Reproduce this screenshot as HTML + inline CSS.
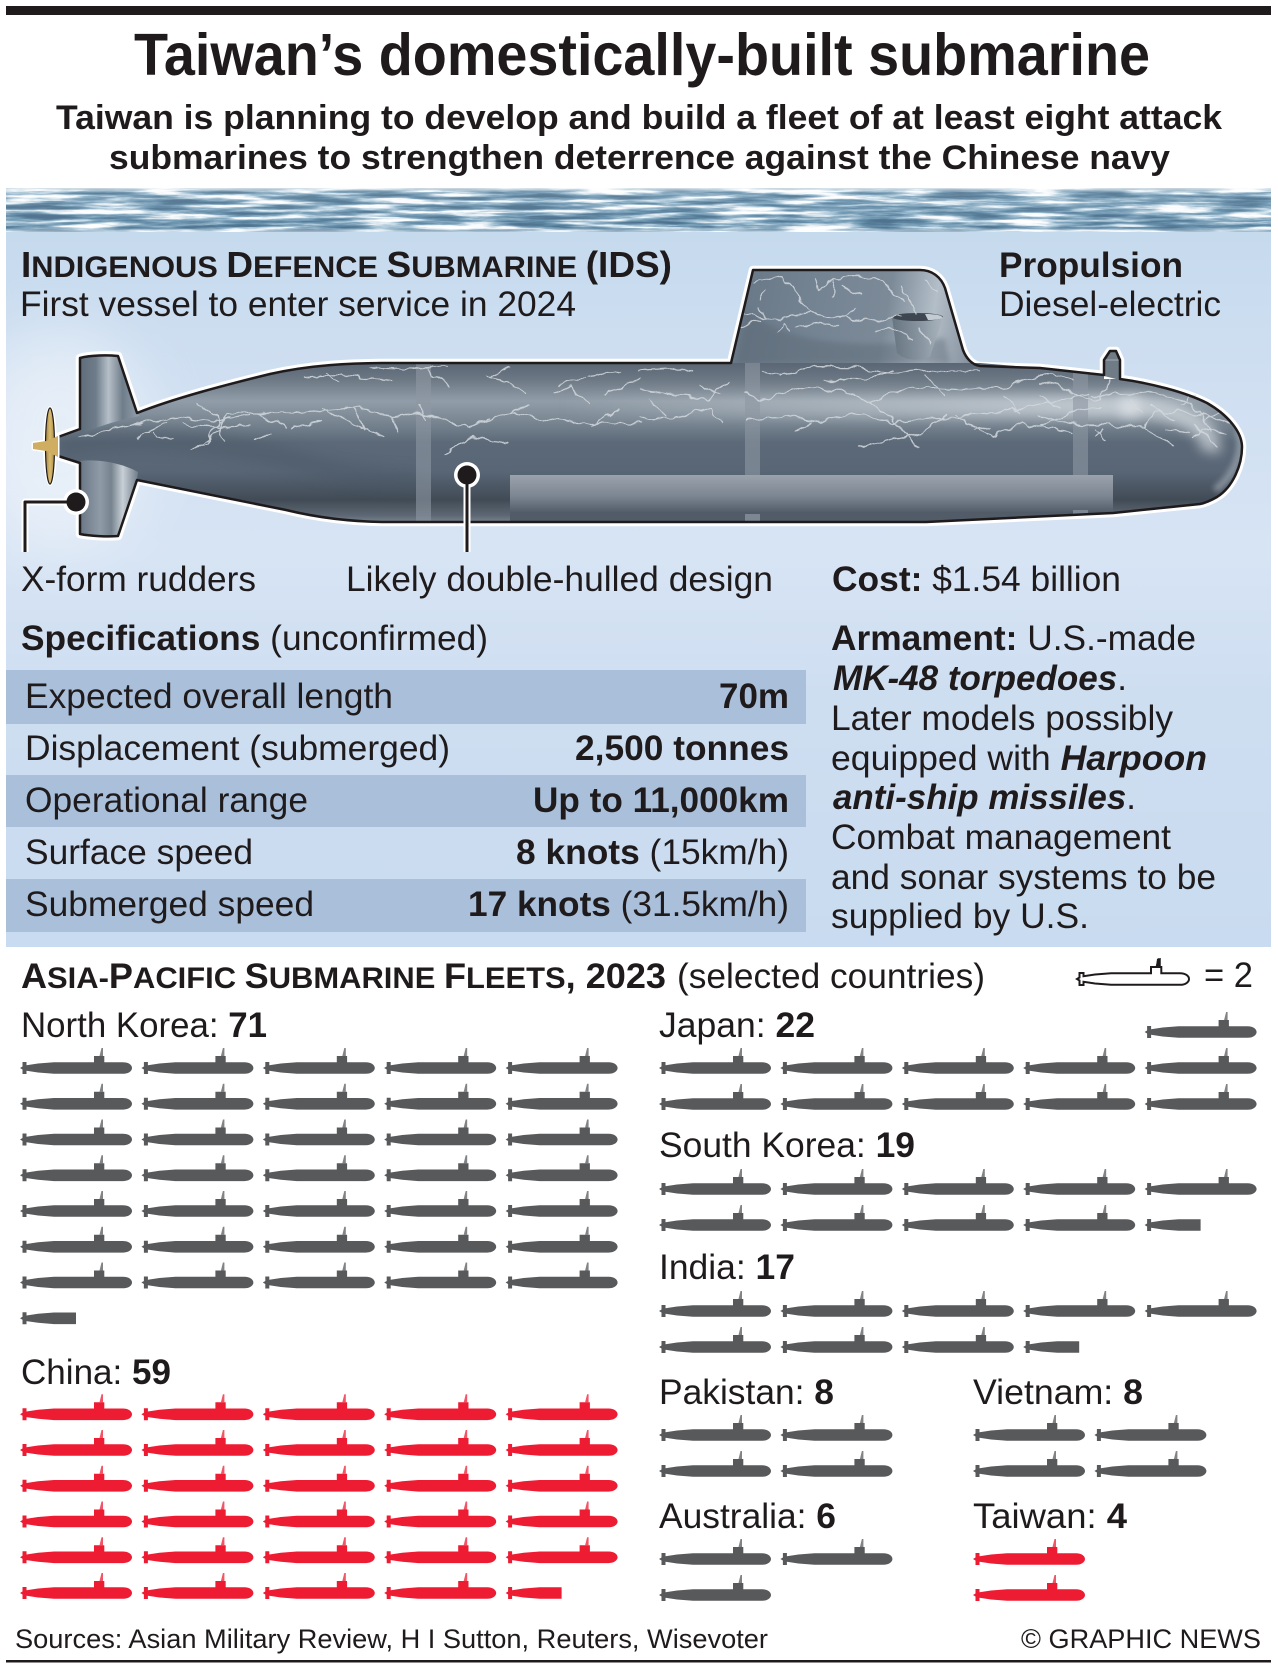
<!DOCTYPE html>
<html><head><meta charset="utf-8"><style>
html,body{margin:0;padding:0;background:#fff}
svg{display:block}
text{font-family:"Liberation Sans",Arial,sans-serif;fill:#1f1b1c}
.r{font-size:35px}
.b{font-size:35px;font-weight:700}
.bi{font-weight:700;font-style:italic}
.bt{font-weight:700}
</style></head><body>
<svg width="1278" height="1667" viewBox="0 0 1278 1667" xmlns="http://www.w3.org/2000/svg">
<defs>
<filter id="sea" x="0" y="0" width="1" height="1" color-interpolation-filters="sRGB">
<feTurbulence type="fractalNoise" baseFrequency="0.014 0.2" numOctaves="5" seed="23"/>
<feColorMatrix values="1 0 0 0 0 1 0 0 0 0 1 0 0 0 0 0 0 0 0 1"/>
<feComponentTransfer>
<feFuncR type="table" tableValues=".30 .30 .30 .33 .40 .52 .74 .97 1 1 1"/>
<feFuncG type="table" tableValues=".44 .44 .44 .48 .56 .66 .83 .98 1 1 1"/>
<feFuncB type="table" tableValues=".55 .55 .55 .59 .67 .75 .89 .99 1 1 1"/>
</feComponentTransfer>
</filter>
<filter id="wig" filterUnits="userSpaceOnUse" x="0" y="200" width="1278" height="400" color-interpolation-filters="sRGB">
<feTurbulence type="fractalNoise" baseFrequency="0.08" numOctaves="2" seed="4" result="n"/>
<feDisplacementMap in="SourceGraphic" in2="n" scale="9" xChannelSelector="R" yChannelSelector="G"/>
</filter>
<filter id="bl" filterUnits="userSpaceOnUse" x="0" y="200" width="1278" height="400"><feGaussianBlur stdDeviation="6"/></filter>
<filter id="bl3" filterUnits="userSpaceOnUse" x="0" y="200" width="1278" height="400"><feGaussianBlur stdDeviation="3"/></filter>
<filter id="bl30" filterUnits="userSpaceOnUse" x="-100" y="200" width="1500" height="800"><feGaussianBlur stdDeviation="30"/></filter>
<linearGradient id="seaf" x1="0" y1="0" x2="0" y2="1">
<stop offset="0" stop-color="#fff" stop-opacity=".75"/><stop offset=".1" stop-color="#fff" stop-opacity=".1"/><stop offset=".9" stop-color="#fff" stop-opacity="0"/><stop offset="1" stop-color="#fff" stop-opacity=".5"/>
</linearGradient>
<linearGradient id="panel" x1="0" y1="0" x2="0" y2="1">
<stop offset="0" stop-color="#c6daee"/><stop offset=".2" stop-color="#cfdff1"/><stop offset=".45" stop-color="#d7e4f4"/><stop offset=".65" stop-color="#cedef1"/><stop offset="1" stop-color="#c9dbf0"/>
</linearGradient>
<linearGradient id="hull" gradientUnits="userSpaceOnUse" x1="0" y1="363" x2="0" y2="522">
<stop offset="0" stop-color="#5a6673"/><stop offset=".1" stop-color="#6b7783"/><stop offset=".24" stop-color="#919da8"/><stop offset=".36" stop-color="#7b8894"/><stop offset=".5" stop-color="#5c6978"/><stop offset=".68" stop-color="#596676"/><stop offset=".86" stop-color="#414b56"/><stop offset=".96" stop-color="#5d6874"/><stop offset="1" stop-color="#77828d"/>
</linearGradient>
<linearGradient id="sail" gradientUnits="userSpaceOnUse" x1="745" y1="280" x2="975" y2="320">
<stop offset="0" stop-color="#6a7988"/><stop offset=".3" stop-color="#748392"/><stop offset=".62" stop-color="#7c8a98"/><stop offset=".82" stop-color="#b3bec8"/><stop offset="1" stop-color="#8793a0"/>
</linearGradient>
<linearGradient id="rud" gradientUnits="userSpaceOnUse" x1="80" y1="0" x2="137" y2="0">
<stop offset="0" stop-color="#5f6d7b"/><stop offset=".28" stop-color="#6f7d8b"/><stop offset=".5" stop-color="#b5bfc8"/><stop offset=".75" stop-color="#6f7d8a"/><stop offset="1" stop-color="#8f9ca8"/>
</linearGradient>
<linearGradient id="rud2" gradientUnits="userSpaceOnUse" x1="80" y1="0" x2="137" y2="0">
<stop offset="0" stop-color="#6a7785"/><stop offset=".35" stop-color="#8f9ba7"/><stop offset=".55" stop-color="#77848f"/><stop offset=".75" stop-color="#c8cfd6"/><stop offset="1" stop-color="#76838f"/>
</linearGradient>
<linearGradient id="cas" gradientUnits="userSpaceOnUse" x1="0" y1="475" x2="0" y2="522">
<stop offset="0" stop-color="#9aa2ac"/><stop offset=".45" stop-color="#7c8692"/><stop offset=".8" stop-color="#525c68"/><stop offset="1" stop-color="#5c6672"/>
</linearGradient>
<linearGradient id="prop" x1="0" y1="0" x2="1" y2="0">
<stop offset="0" stop-color="#a4843f"/><stop offset=".5" stop-color="#d9bb70"/><stop offset="1" stop-color="#ab8c48"/>
</linearGradient>
<linearGradient id="cyl" x1="0" y1="0" x2="1" y2="0">
<stop offset="0" stop-color="#66747f" stop-opacity=".95"/><stop offset=".6" stop-color="#8a97a3" stop-opacity=".95"/><stop offset="1" stop-color="#a9b3bc" stop-opacity=".85"/>
</linearGradient>
<linearGradient id="hi" gradientUnits="userSpaceOnUse" x1="560" y1="0" x2="1100" y2="0">
<stop offset="0" stop-color="#e6ebef" stop-opacity="0"/><stop offset="1" stop-color="#e6ebef" stop-opacity=".6"/>
</linearGradient>
<path id="hp" d="M58 437L80 430L137 413C175 398 225 385 270 374C310 365 350 363 388 363H980L1040 368L1104 375V379H1120C1150 383 1185 392 1207 403C1228 415 1242 432 1242 447C1242 465 1233 487 1217 497C1210 501 1205 503 1200 504L1113 513L926 522H388C350 522 315 517 286 510L137 480C115 475 100 470 80 463L58 456Z"/>
<clipPath id="hc"><use href="#hp"/></clipPath>
<g id="s"><path d="M0 0L2.500-1.500V-6H6.500V-2.800L18-4.500L34-5.800H74V-12H84.300V-5.800H103C108.500-5.800 112-3 112 0C112 3 108.500 5.800 103 5.800H34L18 4.500L6.500 2.800V6H2.500V1.500Z"/><path d="M79.500-12L81.500-20H83V-12Z" opacity=".75"/></g>
<path id="p" d="M0 0L2.500-1.500V-6H6.500V-2.800L18-4.500L34-5.800H56V5.800H34L18 4.500L6.500 2.800V6H2.500V1.500Z"/>
<g id="r2"><use href="#s" x="0"/><use href="#s" x="121.400"/></g>
<g id="r3"><use href="#r2"/><use href="#s" x="242.800"/></g>
<g id="r4"><use href="#r3"/><use href="#s" x="364.200"/></g>
<g id="r5"><use href="#r4"/><use href="#s" x="485.600"/></g>
</defs>

<rect x="6" y="6" width="1265" height="9" fill="#1f1b1c"/>
<text x="134" y="75" font-size="59" class="bt" textLength="1016" lengthAdjust="spacingAndGlyphs">Taiwan’s domestically-built submarine</text>
<text x="56" y="129" font-size="34.500" class="bt" textLength="1166" lengthAdjust="spacingAndGlyphs">Taiwan is planning to develop and build a fleet of at least eight attack</text>
<text x="109" y="169" font-size="34.500" class="bt" textLength="1061" lengthAdjust="spacingAndGlyphs">submarines to strengthen deterrence against the Chinese navy</text>

<rect x="6" y="231" width="1265" height="716" fill="url(#panel)"/>
<ellipse cx="60" cy="440" rx="90" ry="110" fill="#fff" opacity=".45" filter="url(#bl30)"/>
<rect x="6" y="188" width="1265" height="44" filter="url(#sea)"/>
<rect x="6" y="188" width="1265" height="44" fill="url(#seaf)"/>

<!-- table -->
<rect x="6" y="670" width="800" height="54" fill="#a9bfda"/>
<rect x="6" y="775" width="800" height="52" fill="#a9bfda"/>
<rect x="6" y="879" width="800" height="53" fill="#a9bfda"/>

<!-- submarine -->
<g stroke-linejoin="round">
<path d="M58 437L80 429V358C90 355 108 355 118 356L137 413C175 398 225 385 270 374C310 365 350 363 388 363H731L753 270H920C932 270 941 277 945 288L963 350C966 358 972 365 980 366L1040 368L1104 375V360L1110 351H1116L1120 360V379C1150 383 1185 392 1207 403C1228 415 1242 432 1242 447C1242 465 1233 487 1217 497C1210 501 1205 503 1200 504L1113 513L926 522H388C350 522 315 517 286 510L137 480L118 536C108 537 90 536 80 534V463L58 456Z" fill="#fff" stroke="#fff" stroke-width="8.500"/>
<path d="M731 364L753 270H920C932 270 941 277 945 288L963 350C966 358 972 365 980 366Z" fill="url(#sail)"/>
<path d="M736 364L746 310C790 345 860 350 945 338L950 364Z" fill="#56636f" opacity=".4" filter="url(#bl3)"/>
<path d="M1104 376V360L1110 351H1116L1120 360V380Z" fill="#6f7b85"/>
<path d="M1104 360H1120" stroke="#a5aeb6" stroke-width="1"/>
<use href="#hp" fill="url(#hull)"/>
<g clip-path="url(#hc)">
<path d="M60 447C130 432 220 440 300 462C340 474 380 480 420 480" fill="none" stroke="#4a5665" stroke-width="22" opacity=".4" filter="url(#bl)"/>
<rect x="560" y="396" width="580" height="22" fill="url(#hi)" filter="url(#bl)"/>
<path d="M1120 407C1175 405 1215 425 1210 452" fill="none" stroke="#e6ebef" stroke-width="20" opacity=".62" filter="url(#bl)"/>
<path d="M1238 430C1245 450 1235 475 1215 490" fill="none" stroke="#aeb7bf" stroke-width="7" opacity=".6" filter="url(#bl3)"/>
<rect x="416" y="363" width="15" height="159" fill="#8d98a3" opacity=".6"/>
<rect x="745" y="363" width="15" height="159" fill="#8d98a3" opacity=".6"/>
<rect x="1073" y="363" width="15" height="159" fill="#8d98a3" opacity=".6"/>
<rect x="510" y="475" width="603" height="38" fill="url(#cas)"/>
<path d="M510 513H1113V522H510Z" fill="#525c68"/>
<rect x="745" y="514" width="15" height="8" fill="#7c8793"/>
<rect x="1073" y="510" width="15" height="6" fill="#7c8793"/>
</g>
<path d="M892 317H943L930 357C915 362 903 359 897 353Z" fill="url(#cyl)"/>
<ellipse cx="917.500" cy="317" rx="25.500" ry="4" fill="#3e4751"/>
<path d="M925 314C935 314 942 315 943 318C938 320 932 320 928 320Z" fill="#c3ccd3"/>
<!-- rudders over hull -->
<path d="M80 434V358C90 355 108 355 118 356L137 413L140 416C118 420 100 426 80 434Z" fill="url(#rud)"/>
<path d="M80 461C95 459 120 462 138 472L137 480L118 536C108 537 90 536 80 534Z" fill="url(#rud2)"/>
<!-- cracks -->
<g filter="url(#wig)">
<g fill="none" stroke="#d3d9de" stroke-width="1.300" opacity=".85" stroke-linecap="round">
<path d="M78 438L110 430L143 423L177 417L217 422L250 415M137 438L153 427L167 422M153 430L157 438L173 438M192 448L207 443L213 427L223 422L232 417M197 403L217 418L223 443M183 425L217 427L250 425"/>
<path d="M304 377L339 375L392 380M326 373L339 383M369 368L412 370L445 367M429 370L449 387M486 377L502 380L527 392M490 377L510 367M555 393L571 387L588 403M588 377L620 370M604 393L640 380M560 385L585 378"/>
<path d="M196 447L216 433L229 413L294 413L355 407L392 417L420 413L469 427L510 413L571 423L640 423M322 407L339 417L384 437M392 417L400 433M445 453L473 437L506 443M257 413L286 427M257 440L270 433M420 405L425 418M290 428L320 422M355 407L365 430M510 413L530 405M470 427L490 418"/>
<path d="M640 370L681 368L693 373M762 370L783 375L815 367L864 368L893 373L926 370L979 370M824 380L864 380L893 370M640 390L664 393L709 400L726 383M746 393L762 400L803 388L844 390L869 403L913 387L966 390L1007 387L1048 373L1073 380"/>
<path d="M640 418L681 417L709 407L722 423M746 420L787 417L820 423L852 413L893 423L942 417L995 413L1032 407L1089 393M869 403L893 420L918 447M860 447L893 440L922 433L946 413M954 413L991 437L1024 423L1073 433M795 430L811 423M975 430L990 428M590 425L620 410M650 400L665 415M700 385L720 395M925 375L945 395M1005 395L1020 412M1040 395L1060 410"/>
<path d="M1040 382L1060 387L1080 397L1100 400L1110 380M1040 415L1057 420L1080 425L1107 425L1143 427L1155 412L1180 412L1203 415L1230 423M1143 427L1157 437L1172 444M1040 425L1060 417L1077 410L1100 407M1093 395L1103 397L1120 393L1147 393L1183 400L1200 412L1210 433M1095 430L1107 438M1095 437L1103 430M1193 437L1210 430L1227 433M1180 405L1195 395M1205 420L1220 410M1150 405L1175 420M1195 425L1215 445M1130 400L1142 412M1165 428L1190 432"/>
<path d="M753 283L770 280L782 277L792 288L795 293L800 300L810 310L817 315L830 317L845 317L860 320L877 323L890 318L900 317M743 313L760 317L777 320L793 315L810 312M740 327L760 320M777 332L783 323L790 333M797 327L817 323L838 326M817 280L820 290L833 280L853 275L877 280L893 290L903 300M833 280L832 297M902 287L913 307L917 313M927 280L937 292M877 330L887 328L903 332L912 340M920 330L930 343M760 300L765 290M845 317L855 308M765 317L758 308M842 285L860 295"/>
</g></g>
<path d="M58 437L80 429V358C90 355 108 355 118 356L137 413C175 398 225 385 270 374C310 365 350 363 388 363H731L753 270H920C932 270 941 277 945 288L963 350C966 358 972 365 980 366L1040 368L1104 375V360L1110 351H1116L1120 360V379C1150 383 1185 392 1207 403C1228 415 1242 432 1242 447C1242 465 1233 487 1217 497C1210 501 1205 503 1200 504L1113 513L926 522H388C350 522 315 517 286 510L137 480L118 536C108 537 90 536 80 534V463L58 456" fill="none" stroke="#1f1b1c" stroke-width="2.500"/>
<!-- propeller -->
<ellipse cx="50" cy="446" rx="7" ry="40" fill="#fff"/>
<path d="M33 443L46 441L58 436V457L46 451L33 449Z" fill="#fff" stroke="#fff" stroke-width="3"/>
<ellipse cx="50" cy="446" rx="4.500" ry="38" fill="url(#prop)" stroke="#1f1b1c" stroke-width="1.200"/>
<path d="M33 443L46 441L58 436V457L46 451L33 449Z" fill="#cfae62"/>
<!-- pointers -->
<path d="M76 502H25V552" fill="none" stroke="#fff" stroke-width="7"/>
<path d="M467 475V552" fill="none" stroke="#fff" stroke-width="7"/>
<circle cx="76" cy="502" r="13" fill="#fff"/>
<circle cx="467" cy="475" r="13" fill="#fff"/>
<path d="M76 502H25V552" fill="none" stroke="#1f1b1c" stroke-width="3"/>
<path d="M467 475V552" fill="none" stroke="#1f1b1c" stroke-width="3"/>
<circle cx="76" cy="502" r="9.500" fill="#1f1b1c"/>
<circle cx="467" cy="475" r="9.500" fill="#1f1b1c"/>
</g>

<!-- labels -->
<text x="21" y="277" class="bt" font-size="30" textLength="651" lengthAdjust="spacingAndGlyphs"><tspan font-size="36">I</tspan>NDIGENOUS <tspan font-size="36">D</tspan>EFENCE <tspan font-size="36">S</tspan>UBMARINE <tspan font-size="36">(IDS)</tspan></text>
<text x="20" y="316" class="r" textLength="556" lengthAdjust="spacingAndGlyphs">First vessel to enter service in 2024</text>
<text x="999" y="277" class="b" textLength="184" lengthAdjust="spacingAndGlyphs">Propulsion</text>
<text x="999" y="316" class="r" textLength="222" lengthAdjust="spacingAndGlyphs">Diesel-electric</text>
<text x="21" y="591" class="r" textLength="235" lengthAdjust="spacingAndGlyphs">X-form rudders</text>
<text x="346" y="591" class="r" textLength="427" lengthAdjust="spacingAndGlyphs">Likely double-hulled design</text>
<text x="832" y="591" class="r" textLength="289" lengthAdjust="spacingAndGlyphs"><tspan class="bt">Cost:</tspan> $1.54 billion</text>
<text x="21" y="650" class="r" textLength="467" lengthAdjust="spacingAndGlyphs"><tspan class="bt">Specifications</tspan> (unconfirmed)</text>

<text x="25" y="708" class="r" textLength="368" lengthAdjust="spacingAndGlyphs">Expected overall length</text>
<text x="25" y="760" class="r" textLength="425" lengthAdjust="spacingAndGlyphs">Displacement (submerged)</text>
<text x="25" y="812" class="r" textLength="283" lengthAdjust="spacingAndGlyphs">Operational range</text>
<text x="25" y="864" class="r" textLength="228" lengthAdjust="spacingAndGlyphs">Surface speed</text>
<text x="25" y="916" class="r" textLength="289" lengthAdjust="spacingAndGlyphs">Submerged speed</text>
<text x="719" y="708" class="b" textLength="70" lengthAdjust="spacingAndGlyphs">70m</text>
<text x="575" y="760" class="b" textLength="214" lengthAdjust="spacingAndGlyphs">2,500 tonnes</text>
<text x="533" y="812" class="b" textLength="256" lengthAdjust="spacingAndGlyphs">Up to 11,000km</text>
<text x="516" y="864" class="r" textLength="273" lengthAdjust="spacingAndGlyphs"><tspan class="bt">8 knots</tspan> (15km/h)</text>
<text x="468" y="916" class="r" textLength="321" lengthAdjust="spacingAndGlyphs"><tspan class="bt">17 knots</tspan> (31.5km/h)</text>

<text x="831" y="650" class="r" textLength="365" lengthAdjust="spacingAndGlyphs"><tspan class="bt">Armament:</tspan> U.S.-made</text>
<text x="833" y="690" class="r" textLength="294" lengthAdjust="spacingAndGlyphs"><tspan class="bi">MK-48 torpedoes</tspan>.</text>
<text x="831" y="730" class="r" textLength="342" lengthAdjust="spacingAndGlyphs">Later models possibly</text>
<text x="831" y="770" class="r" textLength="376" lengthAdjust="spacingAndGlyphs">equipped with <tspan class="bi">Harpoon</tspan></text>
<text x="833" y="809" class="r" textLength="303" lengthAdjust="spacingAndGlyphs"><tspan class="bi">anti-ship missiles</tspan>.</text>
<text x="831" y="849" class="r" textLength="340" lengthAdjust="spacingAndGlyphs">Combat management</text>
<text x="831" y="889" class="r" textLength="385" lengthAdjust="spacingAndGlyphs">and sonar systems to be</text>
<text x="831" y="928" class="r" textLength="258" lengthAdjust="spacingAndGlyphs">supplied by U.S.</text>

<!-- fleets -->
<text x="21" y="988" class="bt" font-size="30" textLength="645" lengthAdjust="spacingAndGlyphs"><tspan font-size="35">A</tspan>SIA-<tspan font-size="35">P</tspan>ACIFIC <tspan font-size="35">S</tspan>UBMARINE <tspan font-size="35">F</tspan>LEETS<tspan font-size="35">, 2023</tspan></text>
<text x="677" y="988" class="r" textLength="308" lengthAdjust="spacingAndGlyphs">(selected countries)</text>
<use href="#s" x="1077" y="979" fill="#fff" stroke="#1f1b1c" stroke-width="2"/>
<path d="M1156 967H1160V959L1157 959Z" fill="#1f1b1c"/>
<text x="1204" y="987" class="r" textLength="49" lengthAdjust="spacingAndGlyphs">= 2</text>

<text x="21" y="1037" class="r" textLength="246" lengthAdjust="spacingAndGlyphs">North Korea: <tspan class="bt">71</tspan></text>
<text x="659" y="1037" class="r" textLength="156" lengthAdjust="spacingAndGlyphs">Japan: <tspan class="bt">22</tspan></text>
<text x="659" y="1157" class="r" textLength="256" lengthAdjust="spacingAndGlyphs">South Korea: <tspan class="bt">19</tspan></text>
<text x="659" y="1279" class="r" textLength="136" lengthAdjust="spacingAndGlyphs">India: <tspan class="bt">17</tspan></text>
<text x="659" y="1404" class="r" textLength="175" lengthAdjust="spacingAndGlyphs">Pakistan: <tspan class="bt">8</tspan></text>
<text x="973" y="1404" class="r" textLength="170" lengthAdjust="spacingAndGlyphs">Vietnam: <tspan class="bt">8</tspan></text>
<text x="659" y="1528" class="r" textLength="177" lengthAdjust="spacingAndGlyphs">Australia: <tspan class="bt">6</tspan></text>
<text x="973" y="1528" class="r" textLength="154" lengthAdjust="spacingAndGlyphs">Taiwan: <tspan class="bt">4</tspan></text>
<text x="21" y="1384" class="r" textLength="150" lengthAdjust="spacingAndGlyphs">China: <tspan class="bt">59</tspan></text>

<g fill="#58595b">
<use href="#r5" x="20" y="1068"/><use href="#r5" x="20" y="1103.800"/><use href="#r5" x="20" y="1139.500"/><use href="#r5" x="20" y="1175.300"/><use href="#r5" x="20" y="1211"/><use href="#r5" x="20" y="1246.800"/><use href="#r5" x="20" y="1282.500"/>
<use href="#p" x="20" y="1318.300"/>
<use href="#s" x="1144.600" y="1032"/><use href="#r5" x="659" y="1068"/><use href="#r5" x="659" y="1104"/>
<use href="#r5" x="659" y="1189"/><use href="#r4" x="659" y="1225"/><use href="#p" x="1144.600" y="1225"/>
<use href="#r5" x="659" y="1311"/><use href="#r3" x="659" y="1347"/><use href="#p" x="1023.200" y="1347"/>
<use href="#r2" x="659" y="1435"/><use href="#r2" x="659" y="1471"/>
<use href="#r2" x="973" y="1435"/><use href="#r2" x="973" y="1471"/>
<use href="#r2" x="659" y="1559"/><use href="#s" x="659" y="1595"/>
</g>
<g fill="#ed1c33">
<use href="#r5" x="20" y="1414.300"/><use href="#r5" x="20" y="1450"/><use href="#r5" x="20" y="1485.800"/><use href="#r5" x="20" y="1521.500"/><use href="#r5" x="20" y="1557.300"/><use href="#r4" x="20" y="1593"/><use href="#p" x="505.600" y="1593"/>
<use href="#s" x="973" y="1559"/><use href="#s" x="973" y="1595"/>
</g>

<text x="15" y="1648" font-size="27" textLength="753" lengthAdjust="spacingAndGlyphs">Sources: Asian Military Review, H I Sutton, Reuters, Wisevoter</text>
<text x="1021" y="1648" font-size="27" textLength="240" lengthAdjust="spacingAndGlyphs">© GRAPHIC NEWS</text>
<rect x="6" y="1660" width="1265" height="2.500" fill="#1f1b1c"/>
</svg>
</body></html>
